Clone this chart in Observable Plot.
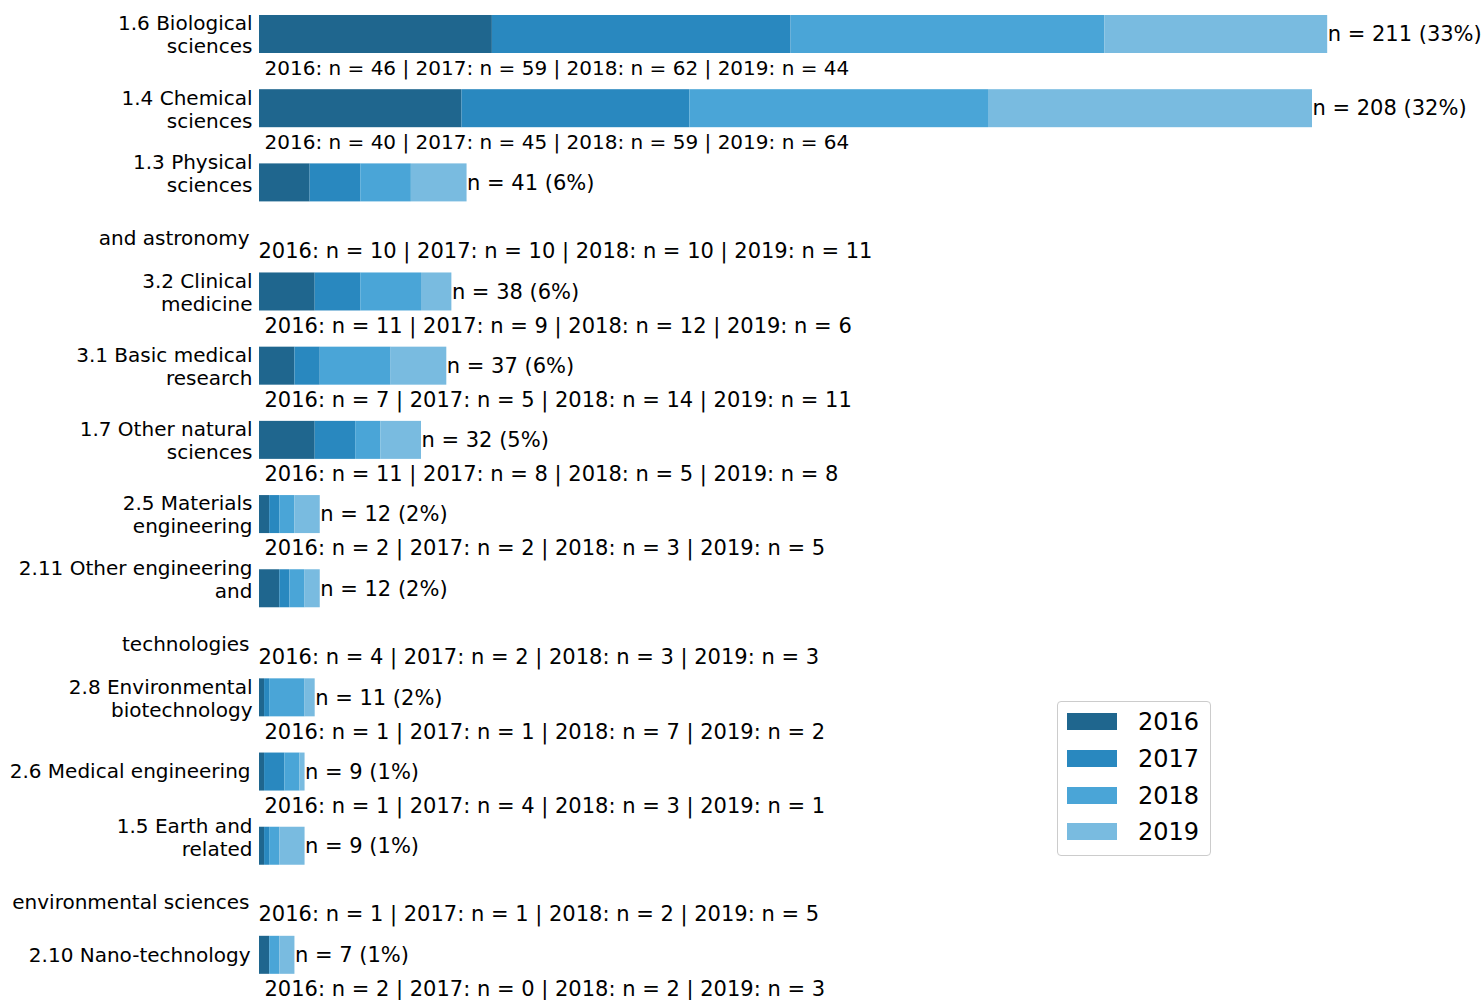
<!DOCTYPE html>
<html>
<head>
<meta charset="utf-8">
<script src="https://cdn.jsdelivr.net/npm/d3@7"></script>
<script src="https://cdn.jsdelivr.net/npm/@observablehq/plot@0.6"></script>
<style>
  html, body { margin: 0; padding: 0; background: #fff; }
  #wrap { position: relative; width: 1483px; height: 1000px; font-family: "DejaVu Sans", sans-serif; }
  #legend { position: absolute; left: 1057px; top: 701px; width: 152px; height: 153px;
            border: 1px solid #cccccc; border-radius: 4px; background: #fff; }
  .lg-row { position: absolute; left: 0; height: 30px; }
  .lg-sw { position: absolute; left: 9px; top: 6px; width: 50px; height: 17px; }
  .lg-tx { position: absolute; left: 80px; top: 0; font-size: 24px; line-height: 30px; color: #000; white-space: nowrap; }
</style>
</head>
<body>
<div id="wrap"><div id="chart"></div><div id="legend"></div></div>
<script>
// ---- data ----
const years = ["2016", "2017", "2018", "2019"];
const colors = ["#1f668e", "#2988bf", "#4aa5d7", "#79bbe0"];
// "\n" = line break; "\n\n" = detached last part of a long label
const categories = [
  "1.6 Biological\nsciences",
  "1.4 Chemical\nsciences",
  "1.3 Physical\nsciences\n\nand astronomy",
  "3.2 Clinical\nmedicine",
  "3.1 Basic medical\nresearch",
  "1.7 Other natural\nsciences",
  "2.5 Materials\nengineering",
  "2.11 Other engineering\nand\n\ntechnologies",
  "2.8 Environmental\nbiotechnology",
  "2.6 Medical engineering",
  "1.5 Earth and\nrelated\n\nenvironmental sciences",
  "2.10 Nano-technology"
];
const n2016 = [46, 40, 10, 11, 7, 11, 2, 4, 1, 1, 1, 2];
const n2017 = [59, 45, 10, 9, 5, 8, 2, 2, 1, 4, 1, 0];
const n2018 = [62, 59, 10, 12, 14, 5, 3, 3, 7, 3, 2, 2];
const n2019 = [44, 64, 11, 6, 11, 8, 5, 3, 2, 1, 5, 3];
const sharePct = [33, 32, 6, 6, 6, 5, 2, 2, 2, 1, 1, 1];

// ---- derived tables ----
const series = [n2016, n2017, n2018, n2019];
const EXTRA = 0.47; // extra row space after a label with a detached part
let tallBefore = 0;
const rows = categories.map((c, i) => {
  const [head, tail] = c.split("\n\n");
  const vals = series.map(s => s[i]);
  const row = {
    cat: c, head, tail: tail || null, tall: !!tail, oneLine: !tail && !head.includes("\n"),
    pos: i + EXTRA * tallBefore,
    vals, total: d3.sum(vals), share: sharePct[i],
    note: years.map((y, k) => `${y}: n = ${vals[k]}`).join(" | ")
  };
  if (tail) tallBefore++;
  return row;
});
const maxTotal = d3.max(rows, d => d.total);
const segs = [];
rows.forEach(r => {
  let acc = 0;
  r.vals.forEach((v, k) => {
    segs.push({pos: r.pos, year: years[k], x1: acc, x2: acc + v});
    acc += v;
  });
});

const H = 0.2561; // half bar thickness in row units
const font = {fontFamily: "DejaVu Sans", fontSize: 20, fill: "#000"};
const noteSize = d => d.total > maxTotal / 2 ? 20 : 21;

const chart = Plot.plot({
  width: 1483, height: 1000,
  marginLeft: 259, marginRight: 9, marginTop: 0, marginBottom: 0,
  style: {fontFamily: "DejaVu Sans", fontSize: "20px", color: "#000", background: "transparent"},
  x: {domain: [0, 240], axis: null},
  y: {domain: [-0.4582, 13.019], reverse: true, axis: null},
  color: {domain: years, range: colors},
  marks: [
    Plot.rect(segs, {x1: "x1", x2: "x2", y1: d => d.pos - H, y2: d => d.pos + H, fill: "year"}),
    Plot.text(rows, {x: "total", y: "pos", text: d => `n = ${d.total} (${d.share}%)`, textAnchor: "start", dx: 0, ...font, fontSize: 21}),
    Plot.text(rows.filter(d => !d.tall), {x: 0, y: "pos", text: "note", textAnchor: "start", dx: 5, dy: 34, ...font, fontSize: noteSize}),
    Plot.text(rows.filter(d => d.tall), {x: 0, y: "pos", text: "note", textAnchor: "start", dx: -1, dy: 68.5, ...font, fontSize: noteSize}),
    Plot.text(rows.filter(d => !d.tall && !d.oneLine), {x: 0, y: "pos", text: "head", textAnchor: "end", dx: -7, lineHeight: 1.15, ...font}),
    Plot.text(rows.filter(d => d.oneLine), {x: 0, y: "pos", text: "head", textAnchor: "end", dx: -9, ...font}),
    Plot.text(rows.filter(d => d.tall), {x: 0, y: "pos", text: "head", textAnchor: "end", dx: -7, dy: -9.5, lineHeight: 1.15, ...font}),
    Plot.text(rows.filter(d => d.tall), {x: 0, y: "pos", text: "tail", textAnchor: "end", dx: -10, dy: 56, ...font})
  ]
});
document.getElementById("chart").appendChild(chart);

// ---- legend ----
const lg = document.getElementById("legend");
years.forEach((y, k) => {
  const row = document.createElement("div");
  row.className = "lg-row";
  row.style.top = (5 + k * 36.8) + "px";
  row.innerHTML = `<div class="lg-sw" style="background:${colors[k]}"></div><div class="lg-tx">${y}</div>`;
  lg.appendChild(row);
});
</script>
</body>
</html>
